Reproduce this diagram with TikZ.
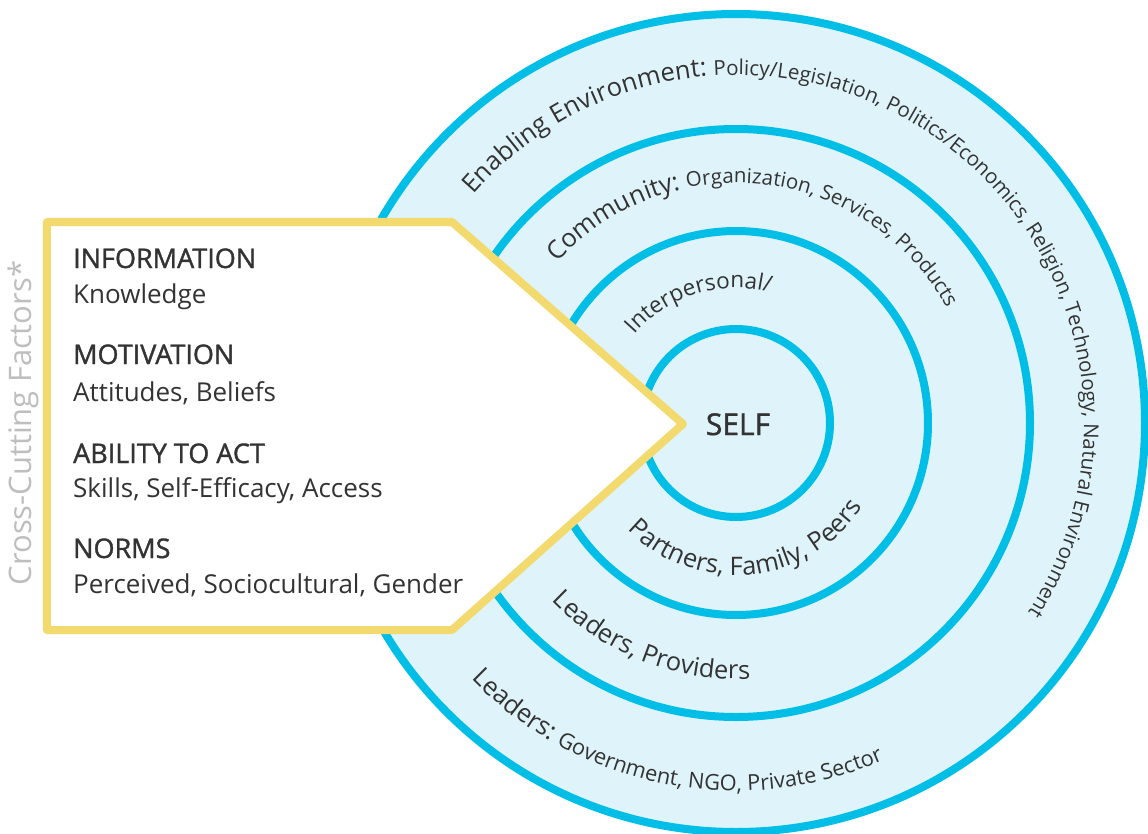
\documentclass[tikz,border=0pt]{standalone}
\usepackage{fontspec}
\setmainfont{Open Sans}
\newfontfamily\headfont[FakeBold=1.3]{Open Sans}
\usetikzlibrary{decorations.text}
\definecolor{ringc}{HTML}{00BEE6}
\definecolor{ringfill}{HTML}{DFF3FA}
\definecolor{boxc}{HTML}{F3DA6E}
\definecolor{txt}{HTML}{333333}
\definecolor{ccfc}{HTML}{BEBEBE}
\newcommand\arcbig{\fontsize{25.5}{30}\selectfont}
\newcommand\arcsmall{\fontsize{20.5}{24}\selectfont}
\newcommand\arcsmallb{\fontsize{21.8}{26}\selectfont}
\newcommand\arcmid{\fontsize{25.5}{30}\selectfont}
\newcommand\arcinter{\fontsize{22.5}{26}\selectfont}
\begin{document}
\begin{tikzpicture}[x=1pt,y=1pt,
  ring/.style={draw=ringc,line width=8pt},
  head/.style={anchor=base west,text=txt,font=\headfont\fontsize{27}{32}\selectfont,inner sep=0pt},
  sub/.style={anchor=base west,text=txt,font=\fontsize{26}{31}\selectfont,inner sep=0pt}]
\useasboundingbox (-736,-410) rectangle (412,423);
\fill[white] (-736,-410) rectangle (412,423);
% rings
\fill[ringfill] (0,0) circle[radius=409pt];
\draw[ring] (0,0) circle[radius=409pt];
\draw[ring] (0,0) circle[radius=294pt];
\draw[ring] (0,0) circle[radius=192pt];
\draw[ring] (0,0) circle[radius=94pt];
% yellow box
\coordinate (b1) at (-689,201);
\coordinate (b2) at (-284,201);
\coordinate (tip) at (-53,-1);
\coordinate (b3) at (-284,-207);
\coordinate (b4) at (-689,-207);
\draw[draw=boxc,fill=white,line width=8pt,line join=round] (b1) -- (b2) -- (tip) -- (b3) -- (b4) -- cycle;
% box texts
\node[head] (info) at (-663,155) {INFORMATION};
\node[sub] (know) at (-663,120) {Knowledge};
\node[head] (moti) at (-663,59) {MOTIVATION};
\node[sub] (atti) at (-663,22) {Attitudes, Beliefs};
\node[head] (abil) at (-663,-40) {ABILITY TO ACT};
\node[sub] (skil) at (-663,-74) {Skills, Self-Efficacy, Access};
\node[head] (norm) at (-663,-135) {NORMS};
\node[sub] (perc) at (-663,-170) {Perceived, Sociocultural, Gender};
\node[rotate=90,anchor=base,text=ccfc,font=\fontsize{31}{36}\selectfont,inner sep=0pt] (ccf) at (-704,0) {Cross-Cutting Factors*};
\node[anchor=base,text=txt,font=\headfont\fontsize{30}{36}\selectfont,inner sep=0pt] (self) at (2,-12) {SELF};
% arc texts
\path[decorate,decoration={text along path,text color=txt,
  text={|\arcbig|Enabling Environment: |\arcsmall|Policy/Legislation, Politics/Economics, Religion, Technology, Natural Environment}}]
  (139:348pt) arc[start angle=139,end angle=-70,radius=348pt];
\path[decorate,decoration={text along path,text color=txt,
  text={|\arcbig|Community: |\arcsmall|Organization, Services, Products}}]
  (138:240pt) arc[start angle=138,end angle=-20,radius=240pt];
\path[decorate,decoration={text along path,text color=txt,
  text={|\arcinter|Interpersonal/}}]
  (139:135pt) arc[start angle=139,end angle=20,radius=135pt];
\path[decorate,decoration={text along path,text color=txt,
  text={|\arcmid|Partners, Family, Peers}}]
  (224.5:152pt) arc[start angle=224.5,end angle=350,radius=152pt];
\path[decorate,decoration={text along path,text color=txt,
  text={|\arcmid|Leaders, Providers}}]
  (224:256pt) arc[start angle=224,end angle=320,radius=256pt];
\path[decorate,decoration={text along path,text color=txt,
  text={|\arcbig|Leaders: |\arcsmallb|Government, NGO, Private Sector}}]
  (224:368pt) arc[start angle=224,end angle=320,radius=368pt];
\end{tikzpicture}
\end{document}
